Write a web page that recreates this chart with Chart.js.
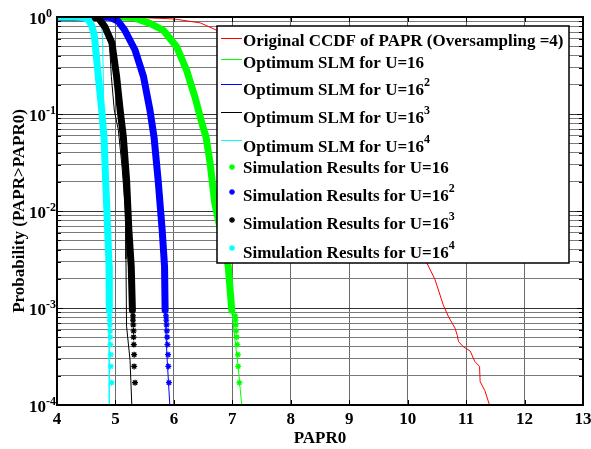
<!DOCTYPE html>
<html>
<head>
<meta charset="utf-8">
<script src="https://cdn.jsdelivr.net/npm/chart.js@4.4.0/dist/chart.umd.min.js"></script>
<style>
  html, body { margin: 0; padding: 0; background: #fff; }
  canvas { display: block; }
</style>
</head>
<body>
<canvas id="papr-chart" width="591" height="449"></canvas>
<script>
// x = PAPR0 (dB), y = Pr(PAPR > PAPR0)

const originalX = [4.0, 4.5, 5.0, 5.5, 6.0, 6.45, 6.67, 7.0, 7.5, 8.0, 8.5, 9.0, 9.5, 10.0, 10.33, 10.47, 10.61, 10.70, 10.81, 10.85, 10.87, 10.95, 11.07, 11.15, 11.23, 11.24, 11.32, 11.40];
const originalY = [1, 1, 0.998, 0.983, 0.955, 0.87, 0.76, 0.61, 0.40, 0.228, 0.112, 0.049, 0.019, 0.0064, 0.0029, 0.00195, 0.00107, 0.00081, 0.00062, 0.00052, 0.00045, 0.0004, 0.00036, 0.00028, 0.00025, 0.000174, 0.000141, 0.0001];

// optimum SLM (analytic) curves
const optGreenX = [4.0, 5.0, 5.3, 5.59, 5.82, 6.05, 6.22, 6.36, 6.48, 6.55, 6.62, 6.70, 6.78, 6.86, 6.93, 6.99, 7.04, 7.10, 7.16];
const optGreenY = [1, 1, 0.99, 0.86, 0.73, 0.49, 0.28, 0.15, 0.08, 0.058, 0.031, 0.012, 0.0071, 0.0043, 0.0027, 0.00095, 0.0005, 0.00025, 0.0001];
const optBlueX = [4.0, 4.6, 4.9, 5.05, 5.16, 5.335, 5.48, 5.59, 5.66, 5.73, 5.80, 5.84, 5.85, 5.88, 5.93];
const optBlueY = [1, 1, 0.995, 0.9, 0.73, 0.457, 0.243, 0.11, 0.058, 0.021, 0.0063, 0.0027, 0.00095, 0.00033, 0.0001];
const optBlackX = [4.0, 4.5, 4.7, 4.79, 4.895, 4.93, 4.98, 5.05, 5.11, 5.175, 5.18, 5.19, 5.25, 5.28];
const optBlackY = [1, 1, 0.98, 0.83, 0.58, 0.243, 0.11, 0.068, 0.03, 0.0095, 0.0032, 0.00065, 0.00029, 0.0001];
const optCyanX = [4.0, 4.5, 4.72, 4.765, 4.78, 4.795, 4.805, 4.832, 4.867, 4.89, 4.895, 4.895];
const optCyanY = [1, 1, 0.97, 0.8, 0.6, 0.2, 0.058, 0.021, 0.0064, 0.0027, 0.001, 0.0001];

// simulation results: dense part (reads as a thick band)
const simGreenX = [4.0, 5.0, 5.3, 5.59, 5.82, 6.05, 6.22, 6.36, 6.48, 6.55, 6.62, 6.70, 6.78, 6.86, 6.93, 6.99];
const simGreenY = [1, 1, 0.99, 0.86, 0.73, 0.49, 0.28, 0.15, 0.08, 0.058, 0.031, 0.012, 0.0071, 0.0043, 0.0027, 0.00095];
const simBlueX = [4.0, 4.6, 4.9, 5.05, 5.16, 5.335, 5.48, 5.59, 5.66, 5.73, 5.80, 5.84, 5.85];
const simBlueY = [1, 1, 0.995, 0.9, 0.73, 0.457, 0.243, 0.11, 0.058, 0.021, 0.0063, 0.0027, 0.00095];
const simBlackX = [4.0, 4.4, 4.6, 4.71, 4.82, 4.94, 5.02, 5.08, 5.135, 5.19, 5.23, 5.27, 5.29];
const simBlackY = [1, 1, 0.995, 0.97, 0.79, 0.54, 0.243, 0.11, 0.058, 0.021, 0.0063, 0.0027, 0.00095];
const simCyanX = [4.0, 4.3, 4.45, 4.54, 4.59, 4.64, 4.707, 4.765, 4.804, 4.832, 4.867, 4.89, 4.895];
const simCyanY = [1, 1, 0.99, 0.93, 0.83, 0.64, 0.243, 0.11, 0.058, 0.021, 0.0064, 0.0027, 0.00095];

// simulation results: sparse tail markers
const tailProb = [8.3e-4, 7.5e-4, 6.7e-4, 5.8e-4, 5.0e-4, 4.2e-4, 3.3e-4, 2.5e-4, 1.7e-4];
const tailGreenX = [7.05, 7.055, 7.06, 7.065, 7.075, 7.085, 7.095, 7.10, 7.12];
const tailBlueX = [5.865, 5.87, 5.875, 5.88, 5.885, 5.89, 5.90, 5.905, 5.915];
const tailBlackX = [5.30, 5.30, 5.305, 5.31, 5.31, 5.315, 5.32, 5.32, 5.335];
const tailCyanX = [4.90, 4.90, 4.905, 4.91, 4.91, 4.915, 4.92, 4.92, 4.935];

// axes
const xTicks = [4, 5, 6, 7, 8, 9, 10, 11, 12, 13];
const yDecades = [1, 0.1, 0.01, 0.001, 0.0001];
const yExponents = ['0', '-1', '-2', '-3', '-4'];
const yMinorSteps = [1, 2, 3, 4, 5, 6, 7, 8, 9];

// legend
const legendText = [
  'Original CCDF of PAPR (Oversampling =4)',
  'Optimum SLM for U=16',
  'Optimum SLM for U=16',
  'Optimum SLM for U=16',
  'Optimum SLM for U=16',
  'Simulation Results for U=16',
  'Simulation Results for U=16',
  'Simulation Results for U=16',
  'Simulation Results for U=16'
];
const legendSup = ['', '', '2', '3', '4', '', '2', '3', '4'];
const legendColor = ['#ff0000', '#00ff00', '#0000ff', '#000000', '#00ffff', '#00ff00', '#0000ff', '#000000', '#00ffff'];

const FONT = '"Liberation Serif", "Times New Roman", serif';

const yTickValues = yDecades.slice(1).flatMap(d => yMinorSteps.map(m => d * m)).concat([1]);

function isDecade(v) {
  const l = Math.log10(v);
  return Math.abs(l - Math.round(l)) < 1e-9;
}

function pts(xs, ys) {
  return xs.map((x, i) => ({ x: x, y: ys[i] }));
}

function thinLine(xs, ys, color, order) {
  return {
    data: pts(xs, ys), showLine: true, borderColor: color, borderWidth: 1,
    pointRadius: 0, tension: 0, order: order
  };
}

function band(xs, ys, color, order) {
  return {
    data: pts(xs, ys), showLine: true, borderColor: color, borderWidth: 7,
    borderJoinStyle: 'round', borderCapStyle: 'round',
    pointRadius: 0, tension: 0, order: order
  };
}

function tail(xs, color, order) {
  return {
    data: pts(xs, tailProb), showLine: false, borderColor: color, backgroundColor: color,
    pointStyle: 'star', pointRadius: 3, borderWidth: 1.3, order: order
  };
}

function star(ctx, x, y, r) {
  ctx.beginPath();
  ctx.moveTo(x - r, y); ctx.lineTo(x + r, y);
  ctx.moveTo(x, y - r); ctx.lineTo(x, y + r);
  const d = r * 0.7;
  ctx.moveTo(x - d, y - d); ctx.lineTo(x + d, y + d);
  ctx.moveTo(x - d, y + d); ctx.lineTo(x + d, y - d);
  ctx.stroke();
}

// axes box, inward ticks, labels and the boxed legend, drawn MATLAB style
const matlabFrame = {
  id: 'matlabFrame',
  afterDraw(chart) {
    const { ctx, chartArea: a } = chart;
    const xs = chart.scales.x, ys = chart.scales.y;
    ctx.save();

    ctx.strokeStyle = '#000';
    ctx.lineWidth = 1;
    ctx.beginPath();
    yTickValues.forEach(v => {
      const py = Math.round(ys.getPixelForValue(v)) + 0.5;
      const len = isDecade(v) ? 6 : 4;
      ctx.moveTo(a.left, py); ctx.lineTo(a.left + len, py);
      ctx.moveTo(a.right - len, py); ctx.lineTo(a.right, py);
    });
    xTicks.forEach(v => {
      const px = Math.round(xs.getPixelForValue(v)) + 0.5;
      ctx.moveTo(px, a.bottom); ctx.lineTo(px, a.bottom - 5);
      ctx.moveTo(px, a.top); ctx.lineTo(px, a.top + 5);
    });
    ctx.stroke();

    ctx.lineWidth = 2;
    ctx.strokeRect(a.left, a.top, a.right - a.left, a.bottom - a.top);

    ctx.fillStyle = '#000';
    ctx.textBaseline = 'alphabetic';

    // x tick labels
    ctx.font = 'bold 17px ' + FONT;
    ctx.textAlign = 'center';
    xTicks.forEach(v => ctx.fillText(String(v), xs.getPixelForValue(v), a.bottom + 19));

    // y tick labels 10^n
    yDecades.forEach((v, i) => {
      const py = ys.getPixelForValue(v);
      ctx.textAlign = 'left';
      ctx.font = 'bold 17px ' + FONT;
      ctx.fillText('10', 29, py + 6.5);
      const w = ctx.measureText('10').width;
      ctx.font = 'bold 12px ' + FONT;
      ctx.fillText(yExponents[i], 29 + w, py - 0.5);
    });

    // axis titles
    ctx.font = 'bold 17px ' + FONT;
    ctx.textAlign = 'center';
    ctx.fillText('PAPR0', (a.left + a.right) / 2, 442.5);
    ctx.save();
    ctx.translate(24, (a.top + a.bottom) / 2);
    ctx.rotate(-Math.PI / 2);
    ctx.fillText('Probability (PAPR>PAPR0)', 0, 0);
    ctx.restore();

    // legend
    const box = { left: 217, top: 26, right: 569, bottom: 263 };
    ctx.fillStyle = '#fff';
    ctx.fillRect(box.left, box.top, box.right - box.left, box.bottom - box.top);
    ctx.strokeStyle = '#000';
    ctx.lineWidth = 1.5;
    ctx.strokeRect(box.left, box.top, box.right - box.left, box.bottom - box.top);

    const sampleY = [38, 59, 84, 112, 140, 167, 192, 220, 248];
    const textY = [40, 62, 89, 117, 146, 167, 195, 223, 252];
    legendText.forEach((t, i) => {
      ctx.strokeStyle = legendColor[i];
      if (i < 5) {
        ctx.lineWidth = 1;
        ctx.beginPath();
        ctx.moveTo(221, sampleY[i] + 0.5);
        ctx.lineTo(242, sampleY[i] + 0.5);
        ctx.stroke();
      } else {
        ctx.lineWidth = 1.3;
        star(ctx, 232, sampleY[i], 3);
      }
      ctx.fillStyle = '#000';
      ctx.textAlign = 'left';
      ctx.font = 'bold 17px ' + FONT;
      ctx.fillText(t, 243, textY[i] + 5.6);
      if (legendSup[i]) {
        const w = ctx.measureText(t).width;
        ctx.font = 'bold 12px ' + FONT;
        ctx.fillText(legendSup[i], 243 + w, textY[i] - 3.5);
      }
    });

    ctx.restore();
  }
};

const ctx = document.getElementById('papr-chart').getContext('2d');
const paprChart = new Chart(ctx, {
  type: 'scatter',
  data: {
    datasets: [
      thinLine(originalX, originalY, '#ff0000', 20),
      thinLine(optGreenX, optGreenY, '#00ff00', 19),
      thinLine(optBlueX, optBlueY, '#0000ff', 18),
      thinLine(optBlackX, optBlackY, '#000000', 17),
      thinLine(optCyanX, optCyanY, '#00ffff', 16),
      band(simGreenX, simGreenY, '#00ff00', 15),
      tail(tailGreenX, '#00ff00', 14),
      band(simBlueX, simBlueY, '#0000ff', 13),
      tail(tailBlueX, '#0000ff', 12),
      band(simBlackX, simBlackY, '#000000', 11),
      tail(tailBlackX, '#000000', 10),
      band(simCyanX, simCyanY, '#00ffff', 9),
      tail(tailCyanX, '#00ffff', 8)
    ]
  },
  options: {
    responsive: false,
    animation: false,
    layout: { padding: { left: 57, right: 8, top: 17, bottom: 44 } },
    plugins: {
      legend: { display: false },
      tooltip: { enabled: false }
    },
    scales: {
      x: {
        type: 'linear', min: 4, max: 13,
        ticks: { display: false, stepSize: 1 },
        grid: { color: '#6a6a6a', drawTicks: false },
        border: { display: false }
      },
      y: {
        type: 'logarithmic', min: 0.0001, max: 1,
        ticks: { display: false },
        afterBuildTicks: scale => { scale.ticks = yTickValues.map(v => ({ value: v })); },
        grid: {
          color: c => (c.tick && isDecade(c.tick.value)) ? '#333' : '#7a7a7a',
          drawTicks: false
        },
        border: { display: false }
      }
    }
  },
  plugins: [matlabFrame]
});
</script>
</body>
</html>
